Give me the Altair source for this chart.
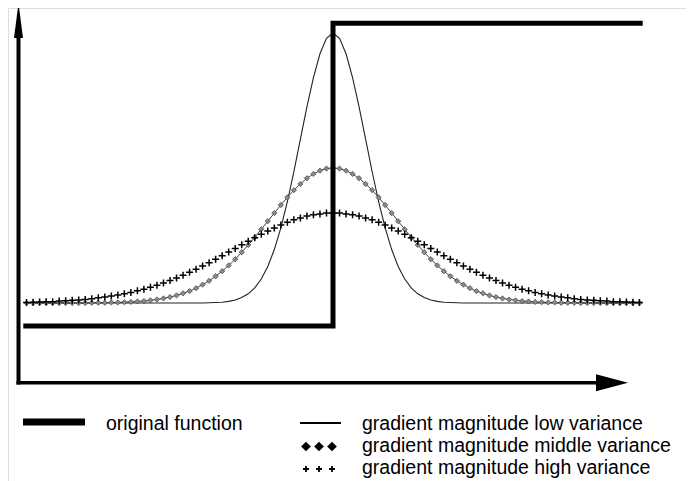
import altair as alt
import pandas as pd

# sample positions (in units of the low-variance sigma)
X = [-9.4, -9.2, -9.0, -8.8, -8.6, -8.4, -8.2, -8.0, -7.8, -7.6, -7.4, -7.2, -7.0, -6.8, -6.6, -6.4,
     -6.2, -6.0, -5.8, -5.6, -5.4, -5.2, -5.0, -4.8, -4.6, -4.4, -4.2, -4.0, -3.8, -3.6, -3.4, -3.2,
     -3.0, -2.8, -2.6, -2.4, -2.2, -2.0, -1.8, -1.6, -1.4, -1.2, -1.0, -0.8, -0.6, -0.4, -0.2, 0.0,
     0.2, 0.4, 0.6, 0.8, 1.0, 1.2, 1.4, 1.6, 1.8, 2.0, 2.2, 2.4, 2.6, 2.8, 3.0, 3.2,
     3.4, 3.6, 3.8, 4.0, 4.2, 4.4, 4.6, 4.8, 5.0, 5.2, 5.4, 5.6, 5.8, 6.0, 6.2, 6.4,
     6.6, 6.8, 7.0, 7.2, 7.4, 7.6, 7.8, 8.0, 8.2, 8.4, 8.6, 8.8, 9.0, 9.2, 9.4]

LOW = [0, 0, 0, 0, 0, 0, 0, 0, 0, 0, 0, 0, 0, 0, 0, 0,
       0, 0, 0, 0, 0, 0, 0, 0, 0, 0, 0, 0, 0.001, 0.002, 0.003, 0.006,
       0.011, 0.020, 0.034, 0.056, 0.089, 0.135, 0.198, 0.278, 0.375, 0.487, 0.607, 0.726, 0.835, 0.923, 0.980, 1.000,
       0.980, 0.923, 0.835, 0.726, 0.607, 0.487, 0.375, 0.278, 0.198, 0.135, 0.089, 0.056, 0.034, 0.020, 0.011, 0.006,
       0.003, 0.002, 0.001, 0, 0, 0, 0, 0, 0, 0, 0, 0, 0, 0, 0, 0,
       0, 0, 0, 0, 0, 0, 0, 0, 0, 0, 0, 0, 0, 0, 0]

MID = [0, 0, 0, 0, 0, 0, 0, 0, 0, 0, 0.001, 0.001, 0.001, 0.002, 0.002, 0.003,
       0.004, 0.006, 0.007, 0.010, 0.013, 0.017, 0.022, 0.028, 0.036, 0.044, 0.055, 0.068, 0.082, 0.099, 0.118, 0.139,
       0.162, 0.188, 0.215, 0.243, 0.273, 0.303, 0.333, 0.363, 0.391, 0.418, 0.441, 0.462, 0.478, 0.490, 0.498, 0.500,
       0.498, 0.490, 0.478, 0.462, 0.441, 0.418, 0.391, 0.363, 0.333, 0.303, 0.273, 0.243, 0.215, 0.188, 0.162, 0.139,
       0.118, 0.099, 0.082, 0.068, 0.055, 0.044, 0.036, 0.028, 0.022, 0.017, 0.013, 0.010, 0.007, 0.006, 0.004, 0.003,
       0.002, 0.002, 0.001, 0.001, 0.001, 0, 0, 0, 0, 0, 0, 0, 0, 0, 0]

HIGH = [0.002, 0.003, 0.004, 0.005, 0.005, 0.007, 0.008, 0.010, 0.011, 0.013, 0.016, 0.019, 0.022, 0.026, 0.030, 0.034,
        0.039, 0.045, 0.051, 0.058, 0.066, 0.074, 0.083, 0.093, 0.103, 0.114, 0.125, 0.137, 0.149, 0.162, 0.175, 0.189,
        0.202, 0.216, 0.229, 0.242, 0.255, 0.267, 0.278, 0.289, 0.299, 0.308, 0.315, 0.322, 0.327, 0.330, 0.333, 0.333,
        0.333, 0.330, 0.327, 0.322, 0.315, 0.308, 0.299, 0.289, 0.278, 0.267, 0.255, 0.242, 0.229, 0.216, 0.202, 0.189,
        0.175, 0.162, 0.149, 0.137, 0.125, 0.114, 0.103, 0.093, 0.083, 0.074, 0.066, 0.058, 0.051, 0.045, 0.039, 0.034,
        0.030, 0.026, 0.022, 0.019, 0.016, 0.013, 0.011, 0.010, 0.008, 0.007, 0.005, 0.005, 0.004, 0.003, 0.002]

STEP_X = [-9.5, 0.0, 0.0, 9.5]
STEP_Y = [-0.085, -0.085, 1.036, 1.036]

LEGEND_LABELS = ["original function",
                 "gradient magnitude low variance",
                 "gradient magnitude middle variance",
                 "gradient magnitude high variance"]

curves = pd.DataFrame({"x": X, "low": LOW, "mid": MID, "high": HIGH})
step = pd.DataFrame({"x": STEP_X, "y": STEP_Y, "i": list(range(len(STEP_X)))})
one = pd.DataFrame({"d": [0]})

xs = alt.Scale(domain=[-9.5, 9.5], range=[15.3, 634.7], nice=False, zero=False)
ys = alt.Scale(domain=[0, 1], range=[295, 25], nice=False, zero=False)
XE = alt.X("x:Q", scale=xs, axis=None)

base = alt.Chart(curves)
low_line = base.mark_line(color="#222222", strokeWidth=1.1).encode(
    x=XE, y=alt.Y("low:Q", scale=ys, axis=None))
mid_line = base.mark_line(color="#111111", strokeWidth=0.8).encode(
    x=XE, y=alt.Y("mid:Q", scale=ys, axis=None))
mid_pts = base.mark_point(shape="diamond", filled=True, fill="#8a8a8a", stroke="#333333",
                          strokeWidth=0.6, size=28, opacity=1).encode(
    x=XE, y=alt.Y("mid:Q", scale=ys, axis=None))
PLUS = "M-1,0L1,0M0,-1L0,1"
high_pts = base.mark_point(shape=PLUS, filled=False, color="black", strokeWidth=1.5,
                           size=49, opacity=1).encode(
    x=XE, y=alt.Y("high:Q", scale=ys, axis=None))
step_line = alt.Chart(step).mark_line(color="black", strokeWidth=5, strokeJoin="miter").encode(
    x=XE, y=alt.Y("y:Q", scale=ys, axis=None), order=alt.Order("i:Q"))

dec = alt.Chart(one)
y_axis = dec.mark_rule(color="black", strokeWidth=4).encode(
    x=alt.value(10.5), y=alt.value(28), y2=alt.value(376.5))
x_axis = dec.mark_rule(color="black", strokeWidth=3.5).encode(
    x=alt.value(8.5), x2=alt.value(590), y=alt.value(374.7))
y_arrow = dec.mark_point(shape="M0,-1L0.257,1L-0.257,1Z", filled=True, color="black",
                         size=1225, opacity=1).encode(x=alt.value(10.5), y=alt.value(12.5))
x_arrow = dec.mark_point(shape="M1,0L-1,0.53L-1,-0.53Z", filled=True, color="black",
                         size=1024, opacity=1).encode(x=alt.value(604), y=alt.value(374.7))

# legend
leg = [
    dec.mark_rule(color="black", strokeWidth=7).encode(
        x=alt.value(15), x2=alt.value(77), y=alt.value(414)),
    dec.mark_rule(color="black", strokeWidth=2).encode(
        x=alt.value(292), x2=alt.value(333), y=alt.value(415)),
]
for px in [298, 311, 324]:
    leg.append(dec.mark_point(shape="diamond", filled=True, color="black", size=95, opacity=1)
               .encode(x=alt.value(px), y=alt.value(438.5)))
    leg.append(dec.mark_point(shape=PLUS, filled=False, color="black", strokeWidth=1.8,
                              size=36, opacity=1)
               .encode(x=alt.value(px), y=alt.value(461)))
text_pos = [(98, 422), (354, 422), (354, 444), (354, 466)]
for (tx, ty), lab in zip(text_pos, LEGEND_LABELS):
    leg.append(dec.mark_text(align="left", baseline="alphabetic", font="Liberation Sans",
                             fontSize=19.5, color="black")
               .encode(x=alt.value(tx), y=alt.value(ty), text=alt.value(lab)))

chart = alt.layer(
    y_axis, x_axis, y_arrow, x_arrow,
    low_line, mid_line, mid_pts, high_pts, step_line,
    *leg
).properties(
    width=678, height=473,
    autosize=alt.AutoSizeParams(type="none"),
    padding=0,
).configure_view(stroke=None).configure(background="white")

chart.save("out.html", embed_options={"renderer": "svg", "actions": False})
